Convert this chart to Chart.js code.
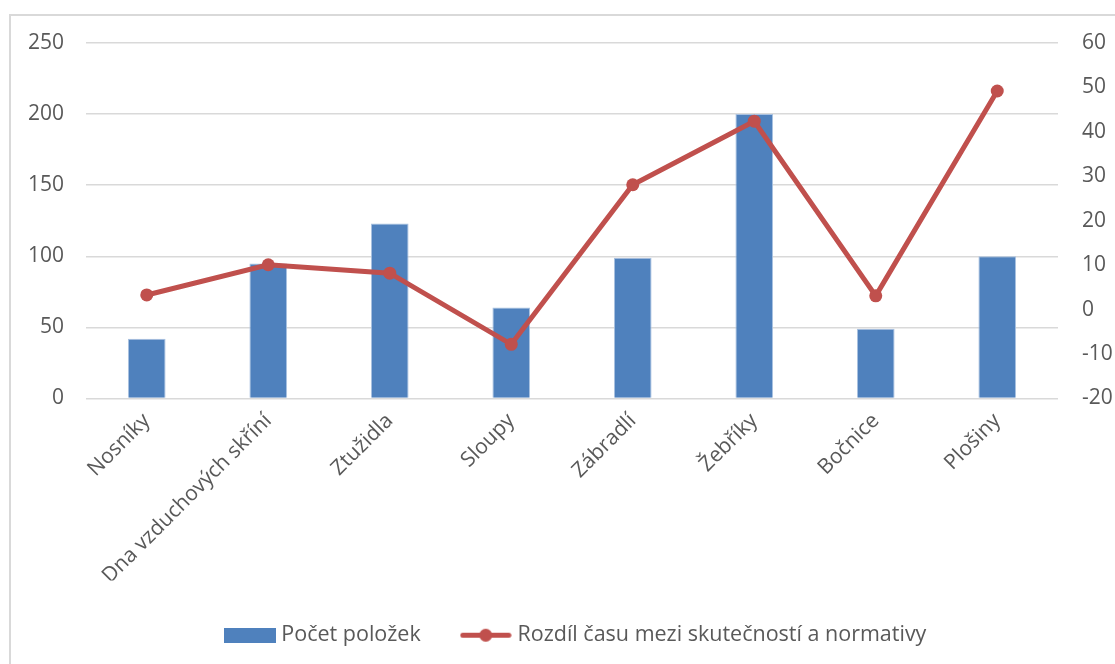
<!DOCTYPE html>
<html lang="cs">
<head>
<meta charset="UTF-8">
<title>Počet položek a rozdíl času</title>
<script src="https://cdn.jsdelivr.net/npm/chart.js"></script>
<style>
    html, body { margin: 0; padding: 0; background: #fff; overflow: hidden; }
    #frame {
        position: absolute; left: 9px; top: 14px;
        width: 1200px; height: 700px;
        border: 2px solid #d9d9d9;
    }
    #wrap { position: absolute; left: 0; top: 0; width: 1115px; height: 664px; }
</style>
</head>
<body>
<div id="frame"></div>
<div id="wrap"><canvas id="myChart" width="1115" height="664"></canvas></div>
<script>
// data
var categories = ['Nosníky', 'Dna vzduchových skříní', 'Ztužidla', 'Sloupy', 'Zábradlí', 'Žebříky', 'Bočnice', 'Plošiny'];
var itemCounts = [42, 95, 123, 64, 99, 200, 49, 100];
var timeDiffs = [3.3, 10.1, 8.2, -7.8, 28.1, 42.4, 3.1, 49.2];
var leftTicks = [0, 50, 100, 150, 200, 250];
var rightTicks = [-20, -10, 0, 10, 20, 30, 40, 50, 60];

var barColor = '#4F81BD';
var lineColor = '#C0504D';
var textColor = '#595959';
var fontName = '"Open Sans", sans-serif';

// legend symbols (drawn a bit wider than the legend box so the text sits closer)
function makeBarSymbol() {
    var c = document.createElement('canvas');
    c.width = 52; c.height = 15;
    var g = c.getContext('2d');
    g.fillStyle = barColor;
    g.fillRect(0, 0, 52, 15);
    return c;
}
function makeLineSymbol() {
    var c = document.createElement('canvas');
    c.width = 52; c.height = 15;
    var g = c.getContext('2d');
    g.strokeStyle = lineColor;
    g.lineWidth = 5;
    g.lineCap = 'round';
    g.beginPath(); g.moveTo(3, 7.5); g.lineTo(49, 7.5); g.stroke();
    g.fillStyle = lineColor;
    g.beginPath(); g.arc(26, 7.5, 6.5, 0, Math.PI * 2); g.fill();
    return c;
}

// the legend in the original sits a little right of centre
var legendShift = {
    id: 'legendShift',
    afterLayout: function (chart) {
        if (chart.legend) {
            chart.legend.left += 20;
            chart.legend.right += 20;
        }
    }
};

var ctx = document.getElementById('myChart').getContext('2d');
var myChart = new Chart(ctx, {
    data: {
        labels: categories,
        datasets: [{
            type: 'line',
            label: 'Rozdíl času mezi skutečností a normativy',
            data: timeDiffs,
            yAxisID: 'y2',
            borderColor: lineColor,
            backgroundColor: lineColor,
            borderWidth: 5,
            pointRadius: 6.5,
            pointHoverRadius: 6.5,
            pointBackgroundColor: lineColor,
            pointBorderWidth: 0,
            tension: 0,
            order: 1
        }, {
            type: 'bar',
            label: 'Počet položek',
            data: itemCounts,
            yAxisID: 'y',
            backgroundColor: barColor,
            borderColor: '#a9c1e0',
            borderWidth: 1,
            categoryPercentage: 1,
            barPercentage: 0.31,
            order: 2
        }]
    },
    plugins: [legendShift],
    options: {
        responsive: false,
        animation: false,
        layout: { padding: { top: 43, left: 0, right: 0, bottom: 8 } },
        plugins: {
            tooltip: { enabled: false },
            legend: {
                position: 'bottom',
                reverse: true,
                labels: {
                    color: textColor,
                    font: { family: fontName, size: 21.5 },
                    usePointStyle: true,
                    pointStyleWidth: 42,
                    boxHeight: 15,
                    padding: 44,
                    generateLabels: function (chart) {
                        return chart.data.datasets.map(function (ds, i) {
                            return {
                                text: ds.label,
                                pointStyle: ds.type === 'bar' ? makeBarSymbol() : makeLineSymbol(),
                                datasetIndex: i,
                                hidden: false,
                                fontColor: textColor,
                                lineWidth: 0
                            };
                        });
                    }
                }
            }
        },
        scales: {
            x: {
                grid: { display: false },
                border: { display: false },
                ticks: {
                    color: textColor,
                    font: { family: fontName, size: 21 },
                    maxRotation: 45,
                    minRotation: 45,
                    autoSkip: false,
                    padding: 2
                },
                afterFit: function (scale) { scale.height = 182; }
            },
            y: {
                position: 'left',
                min: 0,
                max: 250,
                afterBuildTicks: function (scale) {
                    scale.ticks = leftTicks.map(function (v) { return { value: v }; });
                },
                grid: { color: '#d9d9d9', lineWidth: 1.5, drawTicks: false },
                border: { display: false },
                ticks: {
                    color: textColor,
                    font: { family: fontName, size: 21 },
                    padding: 22
                },
                afterFit: function (scale) { scale.width = 86; }
            },
            y2: {
                position: 'right',
                min: -20,
                max: 60,
                afterBuildTicks: function (scale) {
                    scale.ticks = rightTicks.map(function (v) { return { value: v }; });
                },
                grid: { display: false, drawTicks: false },
                border: { display: false },
                ticks: {
                    color: textColor,
                    font: { family: fontName, size: 21 },
                    padding: 24
                },
                afterFit: function (scale) { scale.width = 57; }
            }
        }
    }
});
</script>
</body>
</html>
